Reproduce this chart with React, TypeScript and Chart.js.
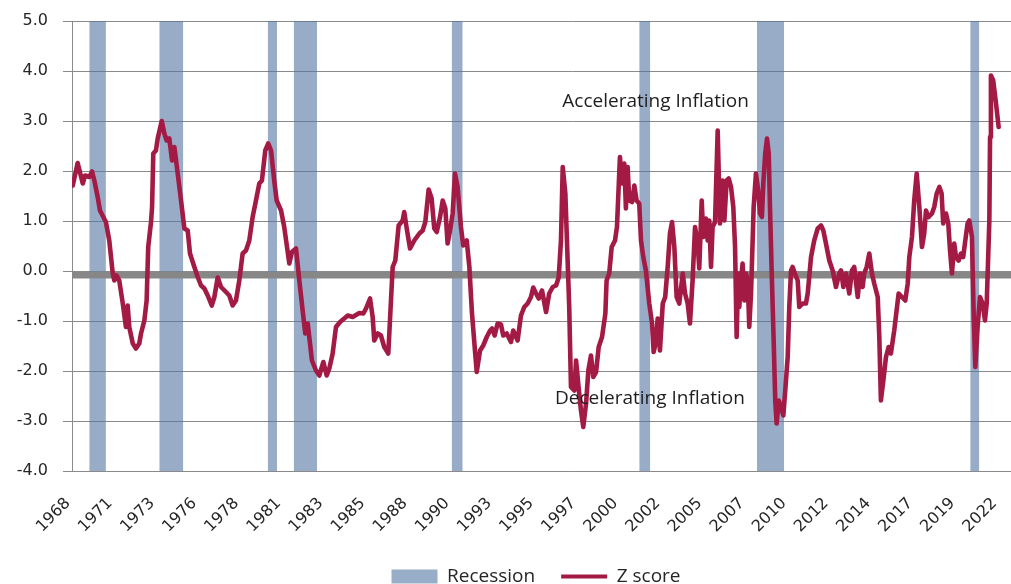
import React, { useEffect, useRef } from "react";
import { Chart, registerables } from "chart.js";

Chart.register(...registerables);

// ---- Data (decimal year, z-score) ----
const Z_YEARS = [
  1968.96, 1969.24, 1969.53, 1969.66, 1969.9, 1970.06, 1970.19, 1970.38, 1970.51, 1970.85,
  1971.04, 1971.24, 1971.33, 1971.46, 1971.61, 1971.81, 1971.99, 1972.09, 1972.18, 1972.38,
  1972.56, 1972.75, 1972.85, 1973.04, 1973.17, 1973.26, 1973.42, 1973.48, 1973.55, 1973.7,
  1973.8, 1974.03, 1974.18, 1974.31, 1974.46, 1974.62, 1974.75, 1974.94, 1975.13, 1975.32,
  1975.51, 1975.64, 1975.89, 1976.08, 1976.27, 1976.46, 1976.65, 1976.88, 1977.03, 1977.22,
  1977.41, 1977.69, 1977.88, 1978.07, 1978.26, 1978.45, 1978.64, 1978.83, 1979.02, 1979.21,
  1979.4, 1979.59, 1979.74, 1979.93, 1980.1, 1980.26, 1980.44, 1980.58, 1980.83, 1981.01,
  1981.3, 1981.45, 1981.68, 1981.87, 1982.06, 1982.21, 1982.35, 1982.59, 1982.82, 1983.01,
  1983.24, 1983.43, 1983.58, 1983.77, 1983.96, 1984.19, 1984.43, 1984.63, 1984.91, 1985.29,
  1985.52, 1985.67, 1985.9, 1986.05, 1986.14, 1986.34, 1986.52, 1986.71, 1986.94, 1987.19,
  1987.34, 1987.53, 1987.76, 1987.85, 1987.99, 1988.18, 1988.42, 1988.71, 1988.9, 1989.05,
  1989.24, 1989.41, 1989.56, 1989.7, 1989.89, 1990.04, 1990.19, 1990.32, 1990.46, 1990.61,
  1990.74, 1990.89, 1991.08, 1991.21, 1991.41, 1991.56, 1991.71, 1991.84, 1991.98, 1992.17,
  1992.35, 1992.55, 1992.74, 1992.85, 1993.0, 1993.17, 1993.36, 1993.49, 1993.69, 1993.93,
  1994.06, 1994.31, 1994.5, 1994.69, 1994.88, 1995.07, 1995.2, 1995.36, 1995.51, 1995.7,
  1995.93, 1996.11, 1996.31, 1996.5, 1996.65, 1996.78, 1996.88, 1997.03, 1997.12, 1997.25,
  1997.35, 1997.54, 1997.64, 1997.79, 1997.92, 1998.05, 1998.21, 1998.34, 1998.49, 1998.62,
  1998.78, 1998.93, 1999.12, 1999.31, 1999.38, 1999.53, 1999.67, 1999.86, 1999.97, 2000.14,
  2000.26, 2000.39, 2000.48, 2000.58, 2000.67, 2000.83, 2000.96, 2001.09, 2001.24, 2001.34,
  2001.47, 2001.62, 2001.81, 2001.97, 2002.06, 2002.19, 2002.29, 2002.42, 2002.58, 2002.72,
  2002.86, 2002.99, 2003.11, 2003.24, 2003.37, 2003.52, 2003.72, 2003.85, 2004.0, 2004.13,
  2004.28, 2004.42, 2004.57, 2004.66, 2004.8, 2004.89, 2005.04, 2005.14, 2005.23, 2005.33,
  2005.42, 2005.56, 2005.71, 2005.84, 2005.99, 2006.09, 2006.22, 2006.34, 2006.47, 2006.6,
  2006.7, 2006.79, 2006.88, 2006.94, 2007.04, 2007.13, 2007.23, 2007.32, 2007.42, 2007.51,
  2007.61, 2007.76, 2007.89, 2008.02, 2008.12, 2008.23, 2008.31, 2008.42, 2008.52, 2008.62,
  2008.69, 2008.79, 2008.9, 2008.99, 2009.07, 2009.19, 2009.32, 2009.45, 2009.56, 2009.7,
  2009.79, 2009.89, 2009.98, 2010.11, 2010.27, 2010.36, 2010.55, 2010.74, 2010.84, 2011.03,
  2011.21, 2011.41, 2011.6, 2011.73, 2011.88, 2012.07, 2012.26, 2012.45, 2012.64, 2012.74,
  2012.87, 2013.02, 2013.21, 2013.36, 2013.49, 2013.69, 2013.82, 2013.97, 2014.06, 2014.2,
  2014.35, 2014.5, 2014.63, 2014.83, 2014.92, 2015.01, 2015.15, 2015.3, 2015.45, 2015.58,
  2015.77, 2016.02, 2016.21, 2016.4, 2016.54, 2016.63, 2016.78, 2016.91, 2017.05, 2017.2,
  2017.35, 2017.48, 2017.58, 2017.73, 2017.92, 2018.05, 2018.19, 2018.34, 2018.47, 2018.56,
  2018.72, 2018.85, 2018.95, 2019.06, 2019.19, 2019.29, 2019.44, 2019.57, 2019.7, 2019.82,
  2019.95, 2020.05, 2020.2, 2020.3, 2020.39, 2020.52, 2020.66, 2020.81, 2020.94, 2021.04,
  2021.19, 2021.23, 2021.28, 2021.41, 2021.57, 2021.72,
];

const Z_VALUES = [
  1.71, 2.16, 1.75, 1.91, 1.88, 1.99, 1.81, 1.48, 1.21, 0.98,
  0.61, -0.05, -0.19, -0.09, -0.19, -0.65, -1.12, -0.69, -1.12, -1.45,
  -1.55, -1.45, -1.25, -0.99, -0.59, 0.48, 0.98, 1.28, 2.35, 2.41,
  2.65, 3.0, 2.75, 2.61, 2.65, 2.21, 2.48, 1.95, 1.41, 0.85,
  0.81, 0.35, 0.08, -0.12, -0.29, -0.35, -0.49, -0.69, -0.52, -0.13,
  -0.32, -0.42, -0.49, -0.69, -0.59, -0.19, 0.35, 0.41, 0.61, 1.08,
  1.41, 1.75, 1.81, 2.41, 2.55, 2.41, 1.81, 1.41, 1.21, 0.88,
  0.15, 0.38, 0.45, -0.19, -0.79, -1.25, -1.05, -1.79, -1.99, -2.09,
  -1.82, -2.09, -1.95, -1.65, -1.12, -1.02, -0.95, -0.89, -0.92, -0.84,
  -0.85, -0.75, -0.55, -0.92, -1.39, -1.25, -1.29, -1.52, -1.65, 0.08,
  0.21, 0.91, 1.01, 1.18, 0.85, 0.45, 0.61, 0.75, 0.81, 0.98,
  1.63, 1.45, 0.85, 0.78, 1.08, 1.41, 1.25, 0.55, 0.81, 1.15,
  1.95, 1.68, 0.88, 0.51, 0.61, 0.08, -0.85, -1.42, -2.02, -1.59,
  -1.49, -1.32, -1.19, -1.15, -1.29, -1.05, -1.07, -1.29, -1.25, -1.42,
  -1.19, -1.39, -0.89, -0.72, -0.65, -0.52, -0.33, -0.45, -0.55, -0.39,
  -0.82, -0.45, -0.32, -0.29, -0.13, 0.61, 2.08, 1.55, 0.61, -0.72,
  -2.32, -2.39, -1.79, -2.35, -2.79, -3.12, -2.65, -1.99, -1.69, -2.12,
  -2.02, -1.52, -1.32, -0.85, -0.19, -0.05, 0.48, 0.61, 0.88, 2.28,
  1.75, 2.15, 1.25, 2.08, 1.41, 1.38, 1.71, 1.41, 1.35, 0.61,
  0.28, 0.01, -0.65, -1.05, -1.62, -1.42, -0.95, -1.59, -0.65, -0.52,
  0.08, 0.75, 0.98, 0.48, -0.52, -0.65, -0.05, -0.45, -0.65, -1.05,
  -0.19, 0.88, 0.55, 0.05, 1.41, 0.68, 1.05, 0.61, 1.01, 0.08,
  0.88, 0.98, 2.81, 0.95, 1.81, 1.01, 1.81, 1.85, 1.68, 1.28,
  0.48, -1.32, -0.05, -0.72, -0.19, 0.15, -0.59, -0.05, -0.19, -1.12,
  -0.45, 1.28, 1.95, 1.61, 1.15, 1.08, 1.75, 2.35, 2.65, 2.35,
  1.28, -0.05, -1.39, -2.59, -3.05, -2.59, -2.72, -2.89, -2.39, -1.72,
  -0.72, 0.01, 0.08, -0.05, -0.19, -0.72, -0.65, -0.65, -0.45, 0.28,
  0.61, 0.85, 0.91, 0.81, 0.55, 0.21, 0.01, -0.32, -0.05, 0.01,
  -0.32, -0.05, -0.45, 0.01, 0.08, -0.52, -0.05, -0.32, -0.05, 0.08,
  0.35, -0.05, -0.25, -0.52, -1.32, -2.59, -2.19, -1.72, -1.52, -1.65,
  -1.19, -0.45, -0.52, -0.59, -0.25, 0.28, 0.68, 1.41, 1.95, 1.28,
  0.48, 0.75, 1.21, 1.08, 1.15, 1.28, 1.55, 1.68, 1.55, 0.95,
  1.15, 0.95, 0.41, -0.05, 0.55, 0.28, 0.21, 0.35, 0.28, 0.61,
  0.95, 1.01, 0.68, -0.92, -1.92, -1.12, -0.52, -0.65, -0.99, -0.65,
  1.01, 2.68, 3.91, 3.81, 3.35, 2.88,
];

// Recession periods (decimal years)
const REC_START = [1969.9, 1973.89, 1980.07, 1981.55, 1990.55, 2001.24, 2007.95, 2020.1];
const REC_END = [1970.85, 1975.26, 1980.6, 1982.88, 1991.18, 2001.87, 2009.5, 2020.62];

const TICK_LABELS = [
  "1968", "1971", "1973", "1976", "1978", "1981", "1983", "1985", "1988", "1990", "1993",
  "1995", "1997", "2000", "2002", "2005", "2007", "2010", "2012", "2014", "2017", "2019", "2022",
];

const ZERO_BAND = [-0.08, -0.08];

const ANN_TEXT = ["Accelerating Inflation", "Decelerating Inflation"];
const ANN_X = [2002.17, 2001.85];
const ANN_Y = [3.39, -2.55];

// ---- Layout / style ----
const W = 1072;
const H = 596;
const X_MIN = 1968.917;
const X_MAX = 2025.9;
const TICK_STEP = 2.4;
const Y_MIN = -4;
const Y_MAX = 5;

const Z_COLOR = "#a31b45";
const REC_COLOR = "rgba(83,117,163,0.6)";
const REC_LEGEND = "#98adc8";
const GRID = "#8a8a8a";
const BAND = "#878787";
const TEXT = "#262626";

const annotationPlugin = {
  id: "inflationAnnotations",
  afterDatasetsDraw(chart: any) {
    const { ctx, scales } = chart;
    ctx.save();
    ctx.font = "19px 'Open Sans'";
    ctx.fillStyle = "#1e1e1e";
    ctx.textAlign = "center";
    ctx.textBaseline = "middle";
    ANN_TEXT.forEach((t, i) => {
      ctx.fillText(t, scales.x.getPixelForValue(ANN_X[i]), scales.y.getPixelForValue(ANN_Y[i]));
    });
    ctx.restore();
  },
};

export default function App() {
  const ref = useRef<HTMLCanvasElement>(null);

  useEffect(() => {
    if (!ref.current) return;
    const zData = Z_YEARS.map((x, i) => ({ x, y: Z_VALUES[i] }));
    const recData: any[] = [];
    REC_START.forEach((s, i) => {
      recData.push({ x: s, y: Y_MAX }, { x: REC_END[i], y: Y_MAX }, { x: REC_END[i], y: null });
    });
    const zeroData = [
      { x: X_MIN, y: ZERO_BAND[0] },
      { x: X_MAX, y: ZERO_BAND[1] },
    ];

    const chart = new Chart(ref.current, {
      type: "line",
      data: {
        datasets: [
          {
            label: "Z score",
            data: zData,
            borderColor: Z_COLOR,
            backgroundColor: Z_COLOR,
            borderWidth: 4.6,
            pointRadius: 0,
            borderJoinStyle: "round",
            borderCapStyle: "round",
            tension: 0,
            fill: false,
          },
          {
            label: "zero",
            data: zeroData,
            borderColor: BAND,
            borderWidth: 7,
            pointRadius: 0,
            fill: false,
          },
          {
            label: "Recession",
            data: recData,
            borderColor: "rgba(0,0,0,0)",
            borderWidth: 0,
            backgroundColor: REC_COLOR,
            pointRadius: 0,
            spanGaps: false,
            fill: { value: Y_MIN },
          },
        ],
      } as any,
      options: {
        responsive: false,
        animation: false,
        devicePixelRatio: 1,
        events: [],
        layout: { padding: { top: 21, left: 0, right: 0, bottom: 0 } },
        plugins: {
          tooltip: { enabled: false },
          legend: {
            position: "bottom",
            labels: {
              usePointStyle: true,
              pointStyleWidth: 46,
              boxHeight: 14,
              padding: 26,
              color: TEXT,
              font: { family: "'Open Sans'", size: 19 },
              generateLabels: () => [
                {
                  text: "Recession",
                  fillStyle: REC_LEGEND,
                  strokeStyle: REC_LEGEND,
                  lineWidth: 0,
                  pointStyle: "rect",
                  hidden: false,
                  datasetIndex: 2,
                  fontColor: TEXT,
                } as any,
                {
                  text: "Z score",
                  fillStyle: Z_COLOR,
                  strokeStyle: Z_COLOR,
                  lineWidth: 4,
                  pointStyle: "line",
                  hidden: false,
                  datasetIndex: 0,
                  fontColor: TEXT,
                } as any,
              ],
            },
          },
        },
        scales: {
          x: {
            type: "linear",
            min: X_MIN,
            max: X_MAX,
            afterBuildTicks: (scale: any) => {
              scale.ticks = TICK_LABELS.map((_, i) => ({ value: X_MIN + i * TICK_STEP }));
            },
            afterFit: (scale: any) => {
              const lh = scale.chart.legend ? scale.chart.legend.height : 0;
              scale.height = H - 471 - lh;
            },
            ticks: {
              autoSkip: false,
              minRotation: 45,
              maxRotation: 45,
              labelOffset: -4,
              padding: 23,
              color: TEXT,
              font: { family: "'DejaVu Sans'", size: 16 },
              callback: (_v: any, i: number) => TICK_LABELS[i],
            },
            grid: { display: false, drawTicks: false },
            border: { display: true, color: GRID, width: 1 },
          },
          y: {
            type: "linear",
            min: Y_MIN,
            max: Y_MAX,
            afterFit: (scale: any) => {
              scale.width = 72;
              scale.paddingTop = 0;
              scale.paddingBottom = 0;
            },
            ticks: {
              stepSize: 1,
              padding: 15,
              color: TEXT,
              font: { family: "'DejaVu Sans'", size: 16 },
              callback: (v: any) => Number(v).toFixed(1),
            },
            grid: { color: GRID, lineWidth: 1, drawTicks: true, tickLength: 9 },
            border: { display: true, color: GRID, width: 1 },
          },
        },
      } as any,
      plugins: [annotationPlugin],
    });
    return () => chart.destroy();
  }, []);

  return (
    <div
      style={{
        position: "fixed",
        left: 0,
        top: 0,
        width: 1011,
        height: 584,
        overflow: "hidden",
        background: "#fff",
      }}
    >
      <canvas ref={ref} width={W} height={H} style={{ width: W, height: H, display: "block" }} />
    </div>
  );
}
